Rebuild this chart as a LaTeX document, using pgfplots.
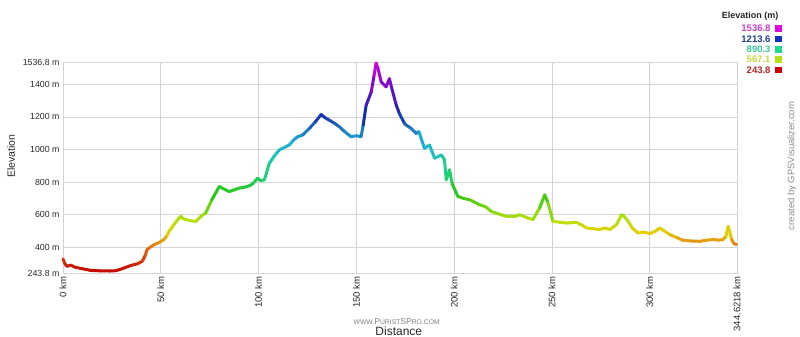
\documentclass[border=0pt]{standalone}
\usepackage{pgfplots}
\pgfplotsset{compat=1.18}
\usepackage{fontspec}
\setmainfont{Liberation Sans}
\definecolor{gridc}{RGB}{212,212,212}
\definecolor{lab}{RGB}{40,40,40}
\definecolor{t1}{RGB}{200,60,200}
\definecolor{t2}{RGB}{30,60,140}
\definecolor{t3}{RGB}{60,200,150}
\definecolor{t4}{RGB}{200,215,60}
\definecolor{t5}{RGB}{180,40,40}
\definecolor{s1}{RGB}{225,0,225}
\definecolor{s2}{RGB}{20,50,200}
\definecolor{s3}{RGB}{30,220,140}
\definecolor{s4}{RGB}{180,225,20}
\definecolor{s5}{RGB}{210,0,0}
\begin{document}
\begin{tikzpicture}[x=1pt,y=1pt]
\path[use as bounding box] (-63,-64) rectangle (737,273);
\begin{axis}[
  at={(0,0)}, anchor=south west,
  width=674pt, height=211pt, scale only axis,
  xmin=0, xmax=344.6218, ymin=243.8, ymax=1536.8,
  xtick={0,50,100,150,200,250,300,344.6218},
  xticklabels={0 km,50 km,100 km,150 km,200 km,250 km,300 km,344.6218 km},
  ytick={243.8,400,600,800,1000,1200,1400,1536.8},
  yticklabels={243.8 m,400 m,600 m,800 m,1000 m,1200 m,1400 m,1536.8 m},
  xticklabel style={rotate=90, anchor=east, font=\fontsize{9.5}{10}\selectfont, text=lab},
  yticklabel style={font=\fontsize{8.8}{10}\selectfont, text=lab},
  major tick length=0pt,
  grid=major, grid style={draw=gridc, line width=0.8pt},
  axis line style={draw=gridc, line width=0.8pt},
  clip=false,
  colormap={elev}{rgb255(0pt)=(195,0,0) rgb255(125pt)=(225,115,20) rgb255(190pt)=(230,205,0) rgb255(250pt)=(185,225,10) rgb255(375pt)=(40,200,20) rgb255(500pt)=(30,210,150) rgb255(625pt)=(30,175,215) rgb255(750pt)=(20,45,170) rgb255(875pt)=(110,10,200) rgb255(1000pt)=(225,0,225)},
  point meta min=243.8, point meta max=1536.8,
]
\addplot[mesh, point meta=y, line width=3pt, line cap=round, line join=round] coordinates {
(0,330) (1,300) (2,285) (4,292) (6,280) (9,272) (14,260) (19,257) (24,256) (27,258)
(29.5,267) (32,278) (34.7,290) (38,300) (40.6,316) (42,350) (43,388) (45,405) (46.6,418)
(49,430) (51.7,449) (53,470) (54.3,500) (57,545) (59.4,581) (60.3,591) (61,580) (62.8,571)
(65,565) (68,560) (70.5,591) (73,612) (76,690) (79.9,774) (82,760) (85,743) (88,755)
(90,764) (93,770) (95.2,778) (97,790) (99.5,825) (101,810) (103,815) (105.5,916) (108,960)
(110.6,998) (114,1018) (115.7,1028) (118,1060) (120,1079) (122.5,1089) (126,1130) (129,1170)
(132,1215) (134,1195) (136.2,1180) (139,1160) (141.3,1140) (144,1110) (147.3,1079) (150,1085)
(152.4,1079) (153.5,1150) (155,1272) (157.6,1353) (159,1450) (160.1,1530) (161,1500)
(162.7,1414) (165.2,1384) (166.9,1435) (168,1380) (170.4,1272) (172,1221) (174.6,1160)
(175.5,1150) (178,1130) (180.6,1099) (182,1110) (184.8,1008) (187.4,1028) (190,947)
(193.4,967) (195,940) (196,815) (197.6,876) (199,790) (201.9,713) (205,700) (207.9,693)
(213,662) (216,650) (219,621) (223,605) (226.7,591) (231,590) (233.5,601) (237.7,581)
(240.3,571) (243.7,642) (246.3,723) (248,673) (250.5,560) (254,555) (257.4,550) (262.5,554)
(265,540) (267.6,520) (271,515) (274.4,510) (277,520) (279.6,510) (283,540) (285.6,601)
(287,590) (289,560) (291,520) (294,489) (297,495) (300,485) (303,500) (305,520) (307,505)
(310.3,479) (314,460) (317,444) (321,440) (325.6,438) (329,445) (332.5,449) (335,445)
(337.6,449) (339,470) (340.1,530) (341.9,449) (343,425) (344.4,418)
};
\end{axis}
% axis labels
\node[rotate=90, text=lab, font=\fontsize{10.5}{12}\selectfont] at (-52,117) {Elevation};
\node[text=lab, font=\fontsize{12}{14}\selectfont] at (335.8,-58.7) {Distance};
\node[text=black!50] at (333.7,-48.7) {{\fontsize{6.8}{8}\selectfont WWW.}{\fontsize{8.5}{9}\selectfont P}{\fontsize{6.8}{8}\selectfont URIST}{\fontsize{8.5}{9}\selectfont SP}{\fontsize{6.8}{8}\selectfont RO.COM}};
\node[rotate=90, text=black!45, font=\fontsize{9.5}{11}\selectfont] at (729,107) {created by GPSVisualizer.com};
% legend
\node[font=\bfseries\fontsize{9}{11}\selectfont, text=black!85] at (687,257) {Elevation (m)};
\node[anchor=east, font=\bfseries\fontsize{9.5}{11}\selectfont, text=t1, inner sep=0pt] at (707.7,244.7) {1536.8};
\node[anchor=east, font=\bfseries\fontsize{9.5}{11}\selectfont, text=t2, inner sep=0pt] at (707.7,234) {1213.6};
\node[anchor=east, font=\bfseries\fontsize{9.5}{11}\selectfont, text=t3, inner sep=0pt] at (707.7,223.7) {890.3};
\node[anchor=east, font=\bfseries\fontsize{9.5}{11}\selectfont, text=t4, inner sep=0pt] at (707.7,213.3) {567.1};
\node[anchor=east, font=\bfseries\fontsize{9.5}{11}\selectfont, text=t5, inner sep=0pt] at (707.7,203) {243.8};
\fill[s1] (712.4,241.4) rectangle ++(6.6,6.6);
\fill[s2] (712.4,230.7) rectangle ++(6.6,6.6);
\fill[s3] (712.4,220.4) rectangle ++(6.6,6.6);
\fill[s4] (712.4,210) rectangle ++(6.6,6.6);
\fill[s5] (712.4,199.7) rectangle ++(6.6,6.6);
\end{tikzpicture}
\end{document}
